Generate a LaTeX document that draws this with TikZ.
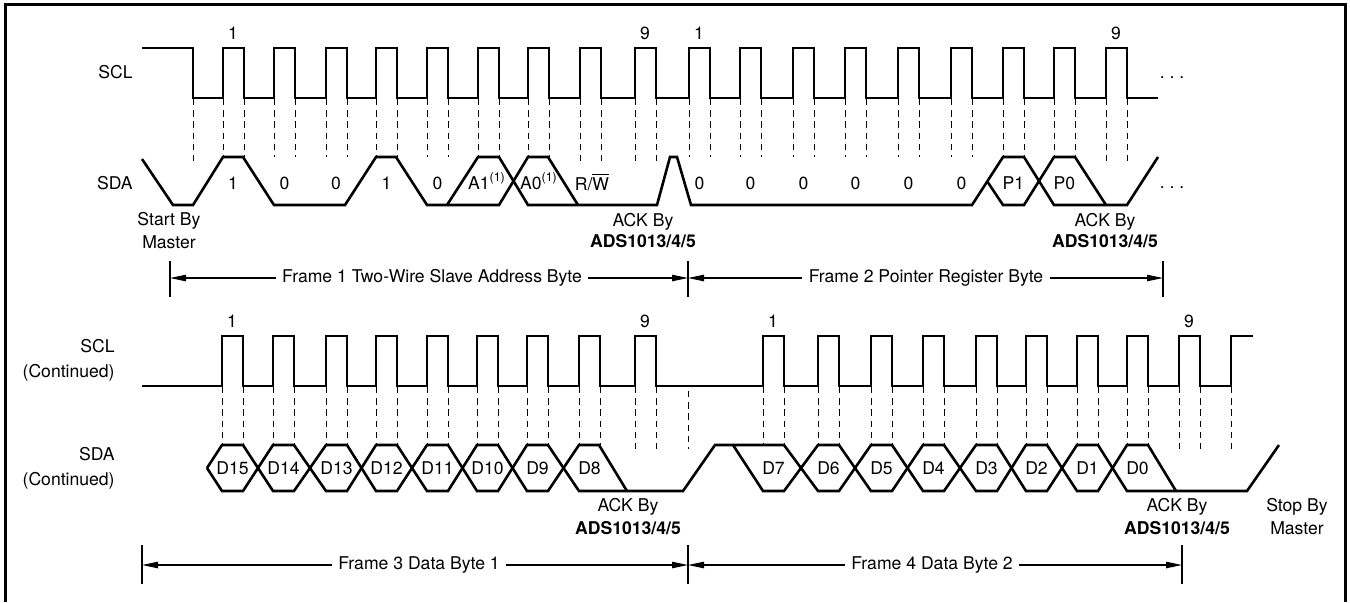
\documentclass[tikz,border=0pt]{standalone}
\usepackage{fontspec}
\setmainfont{TeX Gyre Heros}
\usetikzlibrary{arrows.meta}
\begin{document}
\begin{tikzpicture}[x=0.5pt,y=-0.5pt,
  sig/.style={line width=1.3pt, line join=miter},
  guide/.style={line width=0.5pt, dash pattern=on 3.2pt off 2.4pt},
  lbl/.style={font=\fontsize{8.8}{10.5}\selectfont, inner sep=0pt},
  flbl/.style={font=\fontsize{8.8}{10.5}\selectfont, inner sep=3pt},
  farrow/.style={line width=0.55pt, -{Triangle[length=8pt,width=3.2pt]}},
  tickline/.style={line width=0.6pt},
  border/.style={line width=1.5pt}]
\useasboundingbox (0,0) rectangle (1350,602);
% border
\draw[border] (5,602) -- (5,4) -- (1345,4) -- (1345,602);

% ================= TOP ROW =================
% SCL
\draw[sig] (142,48) -- (193,48) -- (193,98)
  foreach \p in {223,274,326,376,427,478,528,580,635,689,740,793,845,898,951,1003,1054,1106}
  { -- (\p,98) -- (\p,48) -- ({\p+21},48) -- ({\p+21},98) }
  -- (1158,98);
% guides
\draw[guide] (193,99) -- (193,162);
\foreach \p/\e in {223/157,274/157,326/157,376/157,427/157,478/157,528/157,580/162,635/162,
                   689/157,740/157,793/157,845/157,898/157,951/157,1003/157,1054/157,1106/162}
  \draw[guide] (\p,99) -- (\p,\e) ({\p+21},99) -- ({\p+21},\e);
% SDA
\draw[sig] (142,159) -- (173,205) -- (193,205) -- (223,157) -- (243,157) -- (274,205)
  -- (345,205) -- (376,157) -- (396,157) -- (427,205) -- (499,205) -- (528,157)
  -- (548,157) -- (578,205);
\draw[sig] (447,205) -- (478,157) -- (499,157) -- (528,205) -- (657,205) -- (670,157)
  -- (677,157) -- (691,205) -- (972,205) -- (1003,157) -- (1024,157) -- (1054,205)
  -- (1127,205) -- (1158,157);
\draw[sig] (987,181) -- (1003,205) -- (1024,205) -- (1054,157) -- (1075,157) -- (1106,205);

% labels
\node[lbl, anchor=east] (sclA) at (133,72) {SCL};
\node[lbl, anchor=east] (sdaA) at (133,183) {SDA};
\node[lbl] (c1a) at (233,33) {1};
\node[lbl] (c9a) at (645,33) {9};
\node[lbl] (c1b) at (699,33) {1};
\node[lbl] (c9b) at (1116,33) {9};
\foreach \x/\t [count=\i] in {233/1,284.5/0,336/0,386.5/1,437.5/0,699.5/0,750.5/0,803.5/0,855.5/0,908.5/0,961.5/0,1013.5/P1,1064.5/P0}
  \node[lbl] (ba\i) at (\x,183) {\t};
\node[lbl] (a1) at (487,181) {A1\textsuperscript{(1)}};
\node[lbl] (a0) at (539,181) {A0\textsuperscript{(1)}};
\node[lbl] (rw) at (592,182) {R/$\overline{\mbox{W}}$};
\node[lbl] (dotsA) at (1172,78) {.\ .\ .};
\node[lbl] (dotsB) at (1172,188) {.\ .\ .};
\node[lbl, align=center] (start) at (169,231) {Start By\\[1pt]Master};
\node[lbl, align=center] (ack1) at (643,231) {ACK By\\\textbf{ADS1013/4/5}};
\node[lbl, align=center] (ack2) at (1105,231) {ACK By\\\textbf{ADS1013/4/5}};

% frame arrows top
\coordinate (ta1) at (170,261); \coordinate (tb1) at (170,297); \coordinate (tm1) at (170,278);
\coordinate (ta2) at (688,261); \coordinate (tb2) at (688,297); \coordinate (tm2) at (688,278);
\coordinate (ta3) at (1163,261); \coordinate (tb3) at (1163,297); \coordinate (tm3) at (1163,278);
\draw[tickline] (ta1) -- (tb1);
\draw[tickline] (ta2) -- (tb2);
\draw[tickline] (ta3) -- (tb3);
\node[flbl] (f1) at (432,278) {Frame 1 Two-Wire Slave Address Byte};
\node[flbl] (f2) at (926,278) {Frame 2 Pointer Register Byte};
\draw[farrow] (f1.west) -- (tm1);
\draw[farrow] (f1.east) -- (tm2);
\draw[farrow] (f2.west) -- (tm2);
\draw[farrow] (f2.east) -- (tm3);

% ================= BOTTOM ROW =================
\draw[sig] (142,386)
  foreach \p in {222,273,326,376,427,477,527,579,635,763,818,871,923,976,1026,1077,1127,1179}
  { -- (\p,386) -- (\p,336) -- ({\p+21},336) -- ({\p+21},386) }
  -- (1231,386) -- (1231,336) -- (1253,336);
\foreach \p/\e in {222/445,273/445,326/445,376/445,427/445,477/445,527/445,579/445,635/449,
                   763/445,818/445,871/445,923/445,976/445,1026/445,1077/445,1127/445,1179/449}
  \draw[guide] (\p,387) -- (\p,\e) ({\p+21},387) -- ({\p+21},\e);
\draw[guide] (688,391) -- (688,449);
\draw[guide] (1231,387) -- (1231,449);

% SDA continued
\draw[sig] (207,468) -- (222,445) -- (243,445) -- (273,491) -- (294,491) -- (326,445)
  -- (347,445) -- (376,491) -- (397,491) -- (427,445) -- (448,445) -- (477,491)
  -- (498,491) -- (527,445) -- (548,445) -- (579,491) -- (683,491) -- (715,445)
  -- (784,445) -- (818,491) -- (839,491) -- (871,445) -- (892,445) -- (923,491)
  -- (944,491) -- (976,445) -- (997,445) -- (1026,491) -- (1047,491) -- (1077,445)
  -- (1098,445) -- (1127,491) -- (1247,491) -- (1279,445);
\draw[sig] (207,468) -- (222,491) -- (243,491) -- (273,445) -- (294,445) -- (326,491)
  -- (347,491) -- (376,445) -- (397,445) -- (427,491) -- (448,491) -- (477,445)
  -- (498,445) -- (527,491) -- (548,491) -- (579,445) -- (599,445) -- (627,491);
\draw[sig] (733,445) -- (763,491) -- (784,491) -- (818,445) -- (839,445) -- (871,491)
  -- (892,491) -- (923,445) -- (944,445) -- (976,491) -- (997,491) -- (1026,445)
  -- (1047,445) -- (1077,491) -- (1098,491) -- (1127,445) -- (1148,445) -- (1176,491);

\foreach \p/\t [count=\i] in {222/D15,273/D14,326/D13,376/D12,427/D11,477/D10,527/D9,579/D8,
                              763/D7,818/D6,871/D5,923/D4,976/D3,1026/D2,1077/D1,1127/D0}
  \node[lbl] (d\i) at ({\p+10.5},468) {\t};

\node[lbl, align=right, anchor=east] (sclB) at (115,360) {SCL\\[2pt](Continued)};
\node[lbl, align=right, anchor=east] (sdaB) at (115,468) {SDA\\[2pt](Continued)};
\node[lbl] (c1c) at (232,321) {1};
\node[lbl] (c9c) at (645,321) {9};
\node[lbl] (c1d) at (773,321) {1};
\node[lbl] (c9d) at (1189,321) {9};
\node[lbl, align=center] (ack3) at (628,517) {ACK By\\[1pt]\textbf{ADS1013/4/5}};
\node[lbl, align=center] (ack4) at (1177,517) {ACK By\\[1pt]\textbf{ADS1013/4/5}};
\node[lbl, align=center] (stop) at (1297,517) {Stop By\\[1pt]Master};

\coordinate (ua1) at (142,545); \coordinate (ub1) at (142,584); \coordinate (um1) at (142,565);
\coordinate (ua2) at (688,545); \coordinate (ub2) at (688,584); \coordinate (um2) at (688,565);
\coordinate (ua3) at (1182,545); \coordinate (ub3) at (1182,584); \coordinate (um3) at (1182,565);
\draw[tickline] (ua1) -- (ub1);
\draw[tickline] (ua2) -- (ub2);
\draw[tickline] (ua3) -- (ub3);
\node[flbl] (f3) at (419,565) {Frame 3 Data Byte 1};
\node[flbl] (f4) at (932,565) {Frame 4 Data Byte 2};
\draw[farrow] (f3.west) -- (um1);
\draw[farrow] (f3.east) -- (um2);
\draw[farrow] (f4.west) -- (um2);
\draw[farrow] (f4.east) -- (um3);
\end{tikzpicture}
\end{document}
